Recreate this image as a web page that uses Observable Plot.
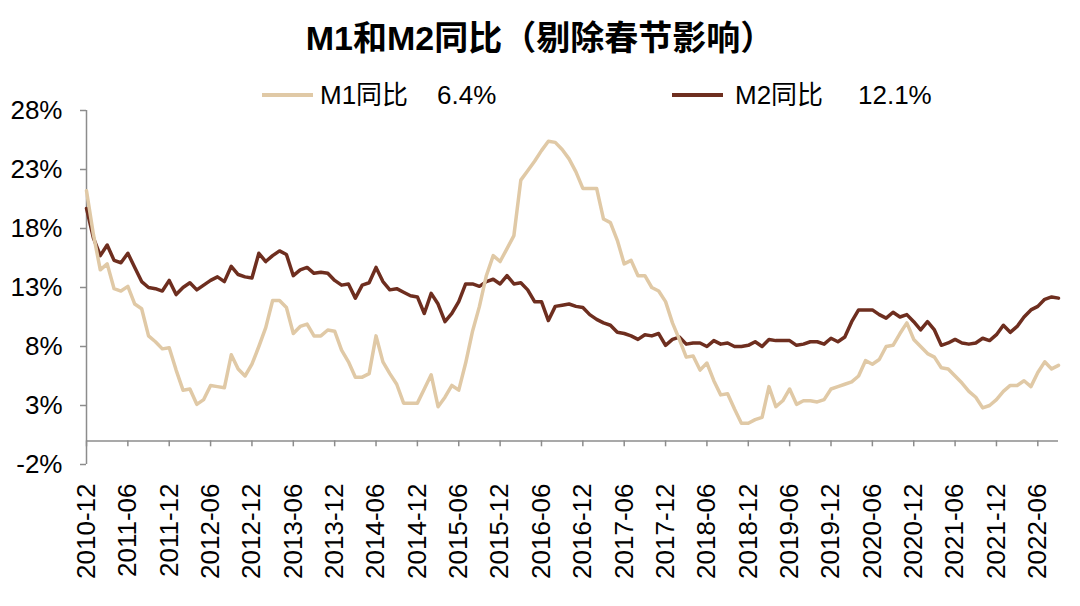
<!DOCTYPE html>
<html>
<head>
<meta charset="utf-8">
<script src="https://cdn.jsdelivr.net/npm/d3@7"></script>
<script src="https://cdn.jsdelivr.net/npm/@observablehq/plot@0.6"></script>
<style>
  html, body { margin: 0; padding: 0; background: #fff; }
  body { width: 1080px; height: 606px; overflow: hidden; position: relative;
         font-family: "Liberation Sans", "Noto Sans CJK SC", sans-serif; color: #000; }
  #title { position: absolute; left: 0; top: 0; width: 1080px; height: 76px; line-height: 76px;
           text-align: center; font-weight: bold; font-size: 34px; z-index: 2; }
  #legend { position: absolute; left: 0; top: 80px; width: 1080px; height: 30px; font-size: 26px; z-index: 2; }
  #legend .sw { position: absolute; top: 13px; width: 51px; height: 4px; }
  #legend .tx { position: absolute; top: 0; line-height: 30px; white-space: nowrap; }
  #chart { position: absolute; left: 0; top: 80px; z-index: 1; }
</style>
</head>
<body>
<div id="title"></div>
<div id="legend"></div>
<div id="chart"></div>
<script>
// ---- data ----
const titleText = "M1和M2同比（剔除春节影响）";
const seriesNames = ["M1同比", "M2同比"];
const seriesColors = ["#E0C9A6", "#6E2E1F"];

// monthly, 2010-12 .. 2022-09
const m1 = [
  21.2,
  17.5, 14.5, 15.0, 12.9, 12.7, 13.1, 11.6, 11.2, 8.9, 8.4, 7.8, 7.9,
  6.0, 4.3, 4.4, 3.1, 3.5, 4.7, 4.6, 4.5, 7.3, 6.1, 5.5, 6.5,
  8.0, 9.6, 11.9, 11.9, 11.3, 9.1, 9.7, 9.9, 8.9, 8.9, 9.4, 9.3,
  7.7, 6.7, 5.4, 5.4, 5.7, 8.9, 6.7, 5.7, 4.8, 3.2, 3.2, 3.2,
  4.4, 5.6, 2.9, 3.7, 4.7, 4.3, 6.6, 9.3, 11.4, 14.0, 15.7, 15.2,
  16.3, 17.4, 22.1, 22.9, 23.7, 24.6, 25.4, 25.3, 24.7, 23.9, 22.8, 21.4,
  21.4, 21.4, 18.8, 18.5, 17.0, 15.0, 15.3, 14.0, 14.0, 13.0, 12.7, 11.8,
  10.0, 8.6, 7.1, 7.2, 6.0, 6.6, 5.1, 3.9, 4.0, 2.7, 1.5, 1.5,
  1.8, 2.0, 4.6, 2.9, 3.4, 4.4, 3.1, 3.4, 3.4, 3.3, 3.5, 4.4,
  4.6, 4.8, 5.0, 5.5, 6.8, 6.5, 6.9, 8.0, 8.1, 9.1, 10.0, 8.6,
  8.0, 7.4, 7.1, 6.2, 6.1, 5.5, 4.9, 4.2, 3.7, 2.8, 3.0, 3.5,
  4.2, 4.7, 4.7, 5.1, 4.6, 5.8, 6.7, 6.1, 6.4
];
const m2 = [
  19.7,
  17.2, 15.7, 16.6, 15.3, 15.1, 15.9, 14.7, 13.5, 13.0, 12.9, 12.7, 13.6,
  12.4, 13.0, 13.4, 12.8, 13.2, 13.6, 13.9, 13.5, 14.8, 14.1, 13.9, 13.8,
  15.9, 15.2, 15.7, 16.1, 15.8, 14.0, 14.5, 14.7, 14.2, 14.3, 14.2, 13.6,
  13.2, 13.3, 12.1, 13.2, 13.4, 14.7, 13.5, 12.8, 12.9, 12.6, 12.3, 12.2,
  10.8, 12.5, 11.6, 10.1, 10.8, 11.8, 13.3, 13.3, 13.1, 13.5, 13.7, 13.3,
  14.0, 13.3, 13.4, 12.8, 11.8, 11.8, 10.2, 11.4, 11.5, 11.6, 11.4, 11.3,
  10.7, 10.3, 10.0, 9.8, 9.2, 9.1, 8.9, 8.6, 9.0, 8.9, 9.1, 8.1,
  8.6, 8.8, 8.2, 8.3, 8.3, 8.0, 8.5, 8.2, 8.3, 8.0, 8.0, 8.1,
  8.4, 8.0, 8.6, 8.5, 8.5, 8.5, 8.1, 8.2, 8.4, 8.4, 8.2, 8.7,
  8.4, 8.8, 10.1, 11.1, 11.1, 11.1, 10.7, 10.4, 10.9, 10.5, 10.7, 10.1,
  9.4, 10.1, 9.4, 8.1, 8.3, 8.6, 8.3, 8.2, 8.3, 8.7, 8.5, 9.0,
  9.8, 9.2, 9.7, 10.5, 11.1, 11.4, 12.0, 12.2, 12.1
];
const xTickLabels = [
  "2010-12","2011-06","2011-12","2012-06","2012-12","2013-06","2013-12","2014-06",
  "2014-12","2015-06","2015-12","2016-06","2016-12","2017-06","2017-12","2018-06",
  "2018-12","2019-06","2019-12","2020-06","2020-12","2021-06","2021-12","2022-06"
];
const yTicks = [-2, 3, 8, 13, 18, 23, 28];

// ---- build ----
const months = d3.utcMonths(new Date(Date.UTC(2010, 11, 1)), new Date(Date.UTC(2022, 9, 1)))
  .map(d3.utcFormat("%Y-%m"));
const rows1 = months.map((m, i) => ({month: m, value: m1[i]}));
const rows2 = months.map((m, i) => ({month: m, value: m2[i]}));

document.getElementById("title").textContent = titleText;

const legend = document.getElementById("legend");
const legendItems = [
  {name: seriesNames[0], color: seriesColors[0], last: m1[m1.length - 1], sw: 262, tx: 320, vx: 437},
  {name: seriesNames[1], color: seriesColors[1], last: m2[m2.length - 1], sw: 672, tx: 735, vx: 858}
];
for (const it of legendItems) {
  const sw = document.createElement("span");
  sw.className = "sw"; sw.style.left = it.sw + "px"; sw.style.background = it.color;
  const t = document.createElement("span");
  t.className = "tx"; t.style.left = it.tx + "px"; t.textContent = it.name;
  const v = document.createElement("span");
  v.className = "tx"; v.style.left = it.vx + "px"; v.textContent = it.last.toFixed(1) + "%";
  legend.append(sw, t, v);
}

const axisGray = "#8c8c8c";
const firstMonth = months[0], lastMonth = months[months.length - 1];
const chart = Plot.plot({
  width: 1080,
  height: 526,
  marginTop: 30,
  marginLeft: 86,
  marginRight: 22,
  marginBottom: 142,
  style: {fontFamily: "'Liberation Sans', 'Noto Sans CJK SC', sans-serif", background: "transparent", color: "#000"},
  x: {type: "point", domain: months, padding: 0, axis: null},
  y: {domain: [-2, 28], axis: null},
  marks: [
    Plot.ruleX([firstMonth], {y1: () => -2, y2: () => 28, stroke: axisGray, strokeWidth: 1.5}),
    Plot.ruleY([0], {x1: () => firstMonth, x2: () => lastMonth, stroke: axisGray, strokeWidth: 1.5}),
    Plot.ruleX(xTickLabels, {x: d => d, y1: () => 0, y2: () => -0.5, stroke: axisGray, strokeWidth: 1.5}),
    Plot.axisY(yTicks, {tickSize: 6, tickFormat: () => "", label: null, stroke: axisGray, strokeWidth: 1.5}),
    Plot.axisY(yTicks, {tickSize: 0, tickPadding: 24, tickFormat: d => d + "%", label: null, fontSize: 26, fill: "#000"}),
    Plot.axisX(xTickLabels, {tickSize: 0, tickRotate: -90, tickPadding: 19, label: null, fontSize: 26, fill: "#000"}),
    Plot.line(rows2, {x: "month", y: "value", stroke: seriesColors[1], strokeWidth: 3.5}),
    Plot.line(rows1, {x: "month", y: "value", stroke: seriesColors[0], strokeWidth: 3.5})
  ]
});
document.getElementById("chart").append(chart);
</script>
</body>
</html>
